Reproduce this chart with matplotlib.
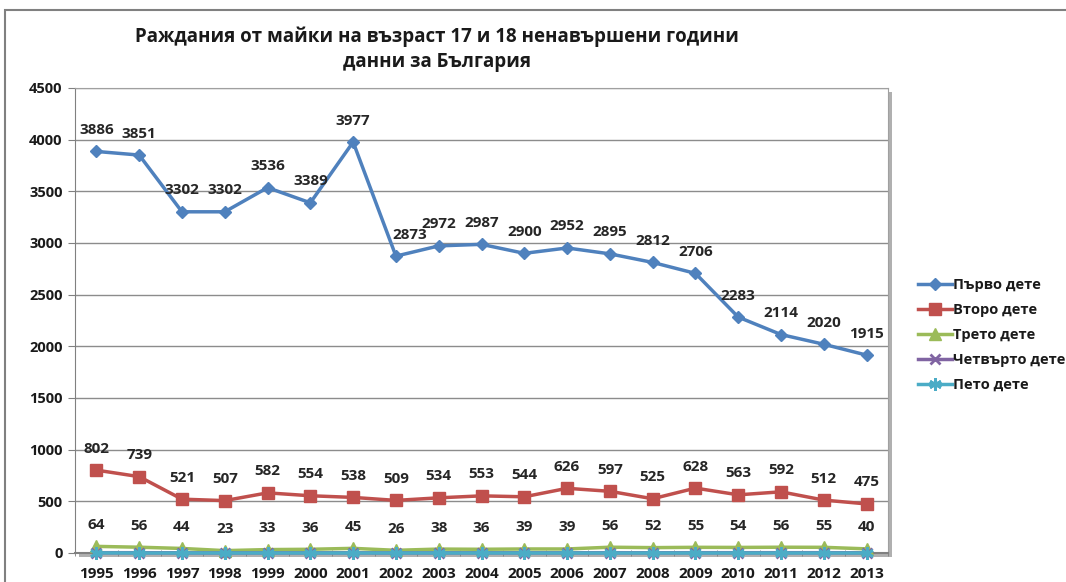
import matplotlib
matplotlib.use("Agg")
import matplotlib.pyplot as plt
from matplotlib.patches import Rectangle
import numpy as np

years = [str(y) for y in range(1995, 2014)]
first = [3886, 3851, 3302, 3302, 3536, 3389, 3977, 2873, 2972, 2987, 2900, 2952, 2895, 2812, 2706, 2283, 2114, 2020, 1915]
second = [802, 739, 521, 507, 582, 554, 538, 509, 534, 553, 544, 626, 597, 525, 628, 563, 592, 512, 475]
third = [64, 56, 44, 23, 33, 36, 45, 26, 38, 36, 39, 39, 56, 52, 55, 54, 56, 55, 40]
fourth = [3, 3, 2, 1, 2, 2, 2, 1, 2, 2, 2, 2, 3, 2, 3, 3, 3, 3, 2]
fifth = [1, 0, 0, 0, 0, 0, 0, 0, 0, 0, 0, 0, 0, 0, 0, 0, 0, 0, 0]
series_names = ["Първо дете", "Второ дете", "Трето дете", "Четвърто дете", "Пето дете"]
title_lines = ["Раждания от майки на възраст 17 и 18 ненавършени години", "данни за България"]

plt.rcParams['font.family'] = ['Open Sans', 'DejaVu Sans']

W, H = 1066, 582
fig = plt.figure(figsize=(W / 100, H / 100), dpi=100)

# outer chart border
fig.add_artist(Rectangle((5 / W, -0.1), 1.2, 1 - 10 / H + 0.1, transform=fig.transFigure,
                         fill=False, edgecolor="#808080", linewidth=1.5))

left, right, top, bottom = 75, 888, 88, 553
ax = fig.add_axes([left / W, 1 - bottom / H, (right - left) / W, (bottom - top) / H])

# shadow of plot area
fig.add_artist(Rectangle(((left + 4) / W, 1 - (bottom + 4) / H), (right - left) / W, (bottom - top) / H,
                         transform=fig.transFigure, facecolor="#b0b0b0", edgecolor="none", zorder=0))
ax.set_zorder(1)
ax.set_facecolor("white")

x = np.arange(len(years))
cols = ["#4F81BD", "#C0504D", "#9BBB59", "#8064A2", "#4BACC6"]
data = [first, second, third, fourth, fifth]
markers = ["D", "s", "^", "x", (6, 2, 0)]
msizes = [6.5, 9, 8, 7, 9]
for d, c, m, ms, name in zip(data, cols, markers, msizes, series_names):
    ax.plot(x, d, color=c, lw=2.5, marker=m, ms=ms, mec=c, mfc=c, mew=2 if m in ("x",) or isinstance(m, tuple) else 1,
            label=name, clip_on=False, zorder=3)

for series in (first, second, third):
    for i, v in enumerate(series):
        dx = 0
        if series is first and i == 7:
            dx = 10
        ax.annotate(str(v), (i, v), xytext=(dx, 15.5), textcoords="offset points", ha="center", va="center",
                    fontsize=11, fontweight="bold", color="#262626")

ax.set_xlim(-0.5, len(years) - 0.5)
ax.set_ylim(0, 4500)
ax.set_yticks(np.arange(0, 4501, 500))
ax.set_xticks(x)
ax.set_xticklabels(years)
ax.set_xticks(np.arange(-0.5, len(years), 1), minor=True)
ax.tick_params(axis="x", which="major", length=0, pad=10)
ax.tick_params(axis="x", which="minor", length=4, direction="inout", color="#808080")
ax.tick_params(axis="y", length=5, direction="out", color="#808080", pad=4)
for lab in ax.get_xticklabels():
    lab.set_fontweight("bold")
    lab.set_fontsize(11)
    lab.set_color("#1a1a1a")
for lab in ax.get_yticklabels():
    lab.set_fontweight("bold")
    lab.set_fontsize(10.5)
    lab.set_color("#1a1a1a")
ax.grid(axis="y", color="#8c8c8c", lw=1)
ax.set_axisbelow(True)
for s in ["top", "right"]:
    ax.spines[s].set_color("#a0a0a0")
ax.spines["left"].set_color("#808080")
ax.spines["bottom"].set_color("#808080")
ax.spines["bottom"].set_linewidth(1.5)

fig.text(437 / W, 1 - 37 / H, title_lines[0], ha="center", va="center", fontsize=13.5, fontweight="bold", color="#1a1a1a")
fig.text(437 / W, 1 - 62 / H, title_lines[1], ha="center", va="center", fontsize=13.5, fontweight="bold", color="#1a1a1a")

leg = fig.legend(loc="upper left", bbox_to_anchor=(905 / W, 1 - 265 / H), frameon=False, fontsize=10.5,
                 handlelength=2.3, handletextpad=0.1, labelspacing=0.75)
for t in leg.get_texts():
    t.set_fontweight("bold")
    t.set_color("#1a1a1a")

fig.savefig("out.png", dpi=100)
